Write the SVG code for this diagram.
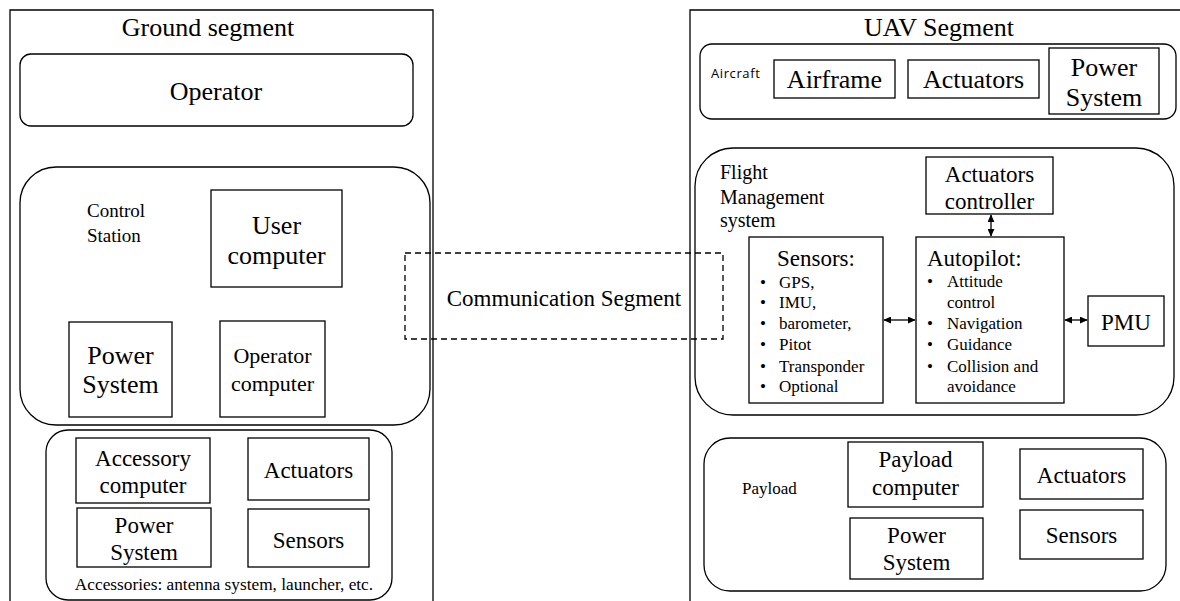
<svg xmlns="http://www.w3.org/2000/svg" width="1180" height="601" viewBox="0 0 1180 601">
<defs>
<style>
.b{fill:none;stroke:#000;stroke-width:1.3}
.w{fill:#fff;stroke:#000;stroke-width:1.3}
text{font-family:"Liberation Serif","Times New Roman",serif;fill:#000}
.c{text-anchor:middle}
.t26{font-size:26px}
.t23{font-size:23px}
.t22{font-size:22px}
.t20{font-size:20px}
.t19{font-size:19px}
.t17{font-size:17px}
.t16{font-size:17.3px}
.con{fill:none;stroke:#000;stroke-width:1.3;marker-start:url(#ah);marker-end:url(#ah)}
</style>
<marker id="ah" viewBox="0 0 10 10" refX="9" refY="5" markerWidth="8" markerHeight="7" markerUnits="userSpaceOnUse" orient="auto-start-reverse" preserveAspectRatio="none">
<path d="M0,0 L10,5 L0,10 z" fill="#000"/>
</marker>
</defs>
<rect width="1180" height="601" fill="#fff"/>

<g id="ground-segment">
<path class="b" d="M10,605 V10 H433 V605"/>
<text class="t26 c" x="208" y="36">Ground segment</text>
</g>
<g id="operator">
<rect class="b" x="20" y="54" width="393" height="72" rx="11"/>
<text class="t26 c" x="216" y="100">Operator</text>
</g>
<g id="control-station">
<rect class="b" x="20" y="167" width="410" height="258" rx="36"/>
<text class="t19" x="87" y="217">Control</text>
<text class="t19" x="87" y="242">Station</text>
</g>
<g id="user-computer">
<rect class="b" x="211" y="190" width="131" height="97"/>
<text class="t26 c" x="276.5" y="234">User</text>
<text class="t26 c" x="276.5" y="264">computer</text>
</g>
<g id="cs-power-system">
<rect class="b" x="69" y="322" width="103" height="95"/>
<text class="t26 c" x="120.5" y="364">Power</text>
<text class="t26 c" x="120.5" y="393">System</text>
</g>
<g id="operator-computer">
<rect class="b" x="220" y="321" width="105" height="96"/>
<text class="t22 c" x="272.5" y="363">Operator</text>
<text class="t22 c" x="272.5" y="391">computer</text>
</g>
<g id="accessories">
<rect class="b" x="46" y="430" width="346" height="170" rx="22"/>
<text class="t16 c" x="224" y="590">Accessories: antenna system, launcher, etc.</text>
</g>
<g id="accessory-computer">
<rect class="b" x="76" y="438" width="134" height="65"/>
<text class="t23 c" x="143" y="466">Accessory</text>
<text class="t23 c" x="143" y="493">computer</text>
</g>
<g id="acc-actuators">
<rect class="b" x="248" y="438" width="121" height="62"/>
<text class="t23 c" x="308.5" y="478">Actuators</text>
</g>
<g id="acc-power-system">
<rect class="b" x="77" y="508" width="134" height="59"/>
<text class="t23 c" x="144" y="533">Power</text>
<text class="t23 c" x="144" y="560">System</text>
</g>
<g id="acc-sensors">
<rect class="b" x="248" y="509" width="121" height="58"/>
<text class="t23 c" x="308.5" y="548">Sensors</text>
</g>

<g id="communication-segment">
<rect class="b" x="405" y="253" width="318" height="86" stroke-dasharray="6,4"/>
<text class="t23 c" x="564" y="306">Communication Segment</text>
</g>

<g id="uav-segment">
<path class="b" d="M1185,10 H690 V605"/>
<text class="t26 c" x="939" y="36">UAV Segment</text>
</g>
<g id="aircraft">
<rect class="b" x="700" y="44" width="476" height="75" rx="12"/>
<text x="711" y="78" style="font-family:'Open Sans','Liberation Sans',sans-serif;font-size:13px;letter-spacing:0.6px">Aircraft</text>
</g>
<g id="airframe">
<rect class="b" x="774" y="60" width="121" height="38"/>
<text class="t26 c" x="834.5" y="88">Airframe</text>
</g>
<g id="ac-actuators">
<rect class="b" x="908" y="60" width="131" height="38"/>
<text class="t26 c" x="973.5" y="88">Actuators</text>
</g>
<g id="ac-power-system">
<rect class="b" x="1049" y="48" width="110" height="66"/>
<text class="t26 c" x="1104" y="76">Power</text>
<text class="t26 c" x="1104" y="106">System</text>
</g>
<g id="flight-management">
<rect class="b" x="695" y="148" width="479" height="267" rx="38"/>
<text class="t20" x="720" y="179">Flight</text>
<text class="t20" x="720" y="204">Management</text>
<text class="t20" x="720" y="227">system</text>
</g>
<g id="actuators-controller">
<rect class="b" x="926" y="157" width="127" height="57"/>
<text class="t23 c" x="989.5" y="182">Actuators</text>
<text class="t23 c" x="989.5" y="209">controller</text>
</g>
<g id="sensors">
<rect class="b" x="749" y="237" width="134" height="166"/>
<text class="t23" x="777" y="266">Sensors:</text>
<g class="t17">
<text x="760" y="288">•</text><text x="779" y="288">GPS,</text>
<text x="760" y="308">•</text><text x="779" y="308"> IMU,</text>
<text x="760" y="329">•</text><text x="779" y="329">barometer,</text>
<text x="760" y="350">•</text><text x="779" y="350">Pitot</text>
<text x="760" y="372">•</text><text x="779" y="372">Transponder</text>
<text x="760" y="392">•</text><text x="779" y="392">Optional</text>
</g>
</g>
<g id="autopilot">
<rect class="b" x="916" y="237" width="148" height="166"/>
<text class="t23" x="927" y="266">Autopilot:</text>
<g class="t17">
<text x="927" y="287">•</text><text x="947" y="287">Attitude</text>
<text x="947" y="308">control</text>
<text x="927" y="329">•</text><text x="947" y="329">Navigation</text>
<text x="927" y="350">•</text><text x="947" y="350">Guidance</text>
<text x="927" y="372">•</text><text x="947" y="372">Collision and</text>
<text x="947" y="392">avoidance</text>
</g>
</g>
<g id="pmu">
<rect class="b" x="1088" y="296" width="76" height="50"/>
<text class="t23 c" x="1126" y="330">PMU</text>
</g>
<g id="payload">
<rect class="b" x="704" y="438" width="462" height="153" rx="26"/>
<text class="t17" x="742" y="494">Payload</text>
</g>
<g id="payload-computer">
<rect class="b" x="848" y="442" width="135" height="65"/>
<text class="t23 c" x="915.5" y="467">Payload</text>
<text class="t23 c" x="915.5" y="495">computer</text>
</g>
<g id="pl-power-system">
<rect class="b" x="850" y="518" width="133" height="61"/>
<text class="t23 c" x="916.5" y="543">Power</text>
<text class="t23 c" x="916.5" y="570">System</text>
</g>
<g id="pl-actuators">
<rect class="b" x="1020" y="449" width="123" height="50"/>
<text class="t23 c" x="1081.5" y="483">Actuators</text>
</g>
<g id="pl-sensors">
<rect class="b" x="1020" y="510" width="123" height="49"/>
<text class="t23 c" x="1081.5" y="543">Sensors</text>
</g>

<g id="connectors">
<line class="con" x1="991" y1="215" x2="991" y2="236"/>
<line class="con" x1="884" y1="320" x2="915" y2="320"/>
<line class="con" x1="1065" y1="320" x2="1087" y2="320"/>
</g>
</svg>
